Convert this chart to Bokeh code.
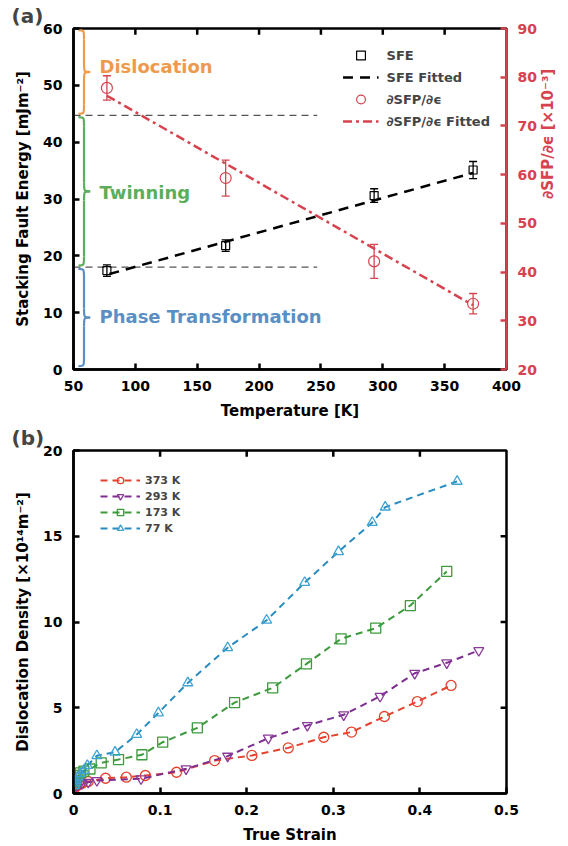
import math
from bokeh.plotting import figure
from bokeh.models import (Range1d, LinearAxis, Legend, LegendItem, ColumnDataSource,
                          SingleIntervalTicker, NumeralTickFormatter)
from bokeh.layouts import column
from bokeh.core.properties import value
from bokeh.embed import file_html
from bokeh.resources import INLINE

FONT = "DejaVu Sans"

# ---------------- panel (a) data ----------------
temperature = [77, 173, 293, 373]
sfe = [17.4, 21.8, 30.6, 35.1]
sfe_err = [1.0, 1.0, 1.2, 1.5]
sfe_fit_T = [79, 373]
sfe_fit = [16.8, 34.6]
dsfp = [77.8, 59.3, 42.2, 33.5]
dsfp_err = [2.5, 3.7, 3.5, 2.1]
dsfp_fit_T = [77, 373]
dsfp_fit = [76.2, 33.2]
regime_names = ["Dislocation", "Twinning", "Phase Transformation"]
regime_top = [59.7, 44.4, 17.7]
regime_bottom = [45.0, 18.3, 0.6]
regime_label_y = [53.3, 31.2, 9.3]
boundary_sfe = [44.7, 18.0]
boundary_T = [50, 247]
temp_ticks = [100, 150, 200, 250, 300, 350]

# ---------------- panel (b) data ----------------
series_labels = ["373 K", "293 K", "173 K", "77 K"]
strain_373 = [0.001, 0.002, 0.004, 0.007, 0.010, 0.017, 0.037, 0.061, 0.083, 0.119, 0.163,
              0.206, 0.248, 0.289, 0.321, 0.359, 0.397, 0.436]
rho_373 = [0.30, 0.38, 0.45, 0.52, 0.60, 0.70, 0.89, 0.95, 1.05, 1.24, 1.92,
           2.22, 2.66, 3.28, 3.58, 4.49, 5.36, 6.30]
strain_293 = [0.001, 0.002, 0.004, 0.007, 0.010, 0.017, 0.027, 0.078, 0.130, 0.178, 0.225,
              0.270, 0.312, 0.354, 0.394, 0.431, 0.468]
rho_293 = [0.35, 0.42, 0.48, 0.55, 0.60, 0.66, 0.76, 0.86, 1.44, 2.18, 3.23,
           3.97, 4.59, 5.67, 7.01, 7.62, 8.34]
strain_173 = [0.001, 0.002, 0.003, 0.005, 0.008, 0.012, 0.019, 0.032, 0.052, 0.079, 0.103,
              0.143, 0.186, 0.230, 0.269, 0.309, 0.349, 0.389, 0.431]
rho_173 = [0.60, 0.75, 0.90, 1.05, 1.20, 1.30, 1.43, 1.79, 1.98, 2.26, 2.99,
           3.83, 5.30, 6.16, 7.56, 9.02, 9.64, 10.96, 12.95]
strain_77 = [0.001, 0.002, 0.003, 0.005, 0.008, 0.012, 0.016, 0.027, 0.048, 0.073, 0.098,
             0.132, 0.178, 0.223, 0.267, 0.306, 0.345, 0.360, 0.443]
rho_77 = [0.45, 0.60, 0.75, 0.95, 1.15, 1.35, 1.63, 2.20, 2.41, 3.44, 4.70,
          6.45, 8.50, 10.10, 12.30, 14.10, 15.80, 16.70, 18.20]
strain_ticks = [0.1, 0.2, 0.3, 0.4]
rho_ticks = [5, 10, 15]

RED = "#D6434F"
REGIME_COLORS = ["#EE9A4D", "#5BAE5B", "#5B8FC4"]
LINE_COLORS = ["#E5412D", "#7D2E8E", "#3D9A3D", "#2A8CBE"]
MARK_COLORS = ["#E5412D", "#8A3A9A", "#3D9A3D", "#3FA3D3"]
MARKERS = ["circle", "inverted_triangle", "square", "triangle"]


def style_axis(ax, color="black"):
    ax.axis_line_width = 2.5
    ax.axis_line_color = color
    ax.major_tick_line_color = color
    ax.major_tick_line_width = 2.5
    ax.major_tick_in = 6
    ax.major_tick_out = 0
    ax.minor_tick_line_color = None
    ax.major_label_text_font = FONT
    ax.major_label_text_font_style = "bold"
    ax.major_label_text_font_size = "14px"
    ax.major_label_text_color = color
    ax.major_label_standoff = 7
    ax.axis_label_text_font = FONT
    ax.axis_label_text_font_style = "bold"
    ax.axis_label_text_font_size = "15px"
    ax.axis_label_text_color = color
    ax.axis_label_standoff = 8


def style_title(p, text):
    p.title.text = text
    p.title.align = "left"
    p.title.offset = -62
    p.title.standoff = 2
    p.title.text_font = FONT
    p.title.text_font_style = "bold"
    p.title.text_font_size = "20px"


# ================= panel (a) =================
p1 = figure(width=568, height=422, x_range=Range1d(50, 400), y_range=Range1d(0, 60),
            output_backend="svg", toolbar_location=None,
            min_border_left=73, min_border_right=57, min_border_top=28, min_border_bottom=52)
p1.extra_y_ranges = {"right": Range1d(20, 90)}
p1.grid.visible = False
p1.outline_line_color = "black"
p1.outline_line_width = 2.5
style_title(p1, "(a)")

p1.xaxis.ticker = SingleIntervalTicker(interval=50)
p1.yaxis.ticker = SingleIntervalTicker(interval=10)
p1.xaxis.axis_label = "Temperature [K]"
p1.yaxis.axis_label = "Stacking Fault Energy [mJm⁻²]"
for ax in p1.xaxis + p1.yaxis:
    style_axis(ax)

ax_r = LinearAxis(y_range_name="right", ticker=SingleIntervalTicker(interval=10),
                  axis_label="∂SFP/∂ϵ [×10⁻³]")
style_axis(ax_r, color=RED)
ax_r.axis_label_orientation = math.pi / 2
p1.add_layout(ax_r, "right")

# inward ticks on the top edge (about 6 px long)
p1.segment(x0=temp_ticks, y0=[60] * len(temp_ticks), x1=temp_ticks,
           y1=[60 - 1.1] * len(temp_ticks), line_color="black", line_width=2.5)

# regime boundaries
for b in boundary_sfe:
    p1.line(boundary_T, [b, b], line_color="#555555", line_width=1.2, line_dash="7 5")

# braces
xe, xm, xt, h = 54.0, 58.5, 63.5, 1.6
for top, bot, col in zip(regime_top, regime_bottom, REGIME_COLORS):
    ym = (top + bot) / 2
    p1.bezier(x0=[xe, xm, xt, xm], y0=[top, ym + h, ym, bot + h],
              x1=[xm, xt, xm, xe], y1=[top - h, ym, ym - h, bot],
              cx0=[xm, xm, xm, xm], cy0=[top, ym, ym, bot],
              cx1=[xm, xm, xm, xm], cy1=[top, ym, ym, bot],
              line_color=col, line_width=2.2)
    p1.segment(x0=[xm, xm], y0=[top - h, ym - h], x1=[xm, xm], y1=[ym + h, bot + h],
               line_color=col, line_width=2.2)

reg_src = ColumnDataSource(dict(x=[71, 71, 71], y=regime_label_y, t=regime_names,
                                c=REGIME_COLORS))
p1.text(x="x", y="y", text="t", text_color="c", source=reg_src, text_font=value(FONT),
        text_font_style="bold", text_font_size="18px", text_baseline="middle",
        text_align="left")

# SFE
sfe_src = ColumnDataSource(dict(T=temperature, v=sfe,
                                lo=[v - e for v, e in zip(sfe, sfe_err)],
                                hi=[v + e for v, e in zip(sfe, sfe_err)]))
p1.segment(x0="T", y0="lo", x1="T", y1="hi", source=sfe_src, line_color="black", line_width=1.3)
p1.scatter("T", "lo", source=sfe_src, marker="dash", size=8, line_color="black", line_width=1.3)
p1.scatter("T", "hi", source=sfe_src, marker="dash", size=8, line_color="black", line_width=1.3)
r_sfe = p1.scatter("T", "v", source=sfe_src, marker="square", size=8, fill_color=None,
                   line_color="black", line_width=1.2)
r_sfe_fit = p1.line(sfe_fit_T, sfe_fit, line_color="black", line_width=2.5, line_dash="10 7")

# dSFP
ds_src = ColumnDataSource(dict(T=temperature, v=dsfp,
                               lo=[v - e for v, e in zip(dsfp, dsfp_err)],
                               hi=[v + e for v, e in zip(dsfp, dsfp_err)]))
p1.segment(x0="T", y0="lo", x1="T", y1="hi", source=ds_src, line_color=RED, line_width=1.3,
           y_range_name="right")
p1.scatter("T", "lo", source=ds_src, marker="dash", size=8, line_color=RED, line_width=1.3,
           y_range_name="right")
p1.scatter("T", "hi", source=ds_src, marker="dash", size=8, line_color=RED, line_width=1.3,
           y_range_name="right")
r_ds_fit = p1.line(dsfp_fit_T, dsfp_fit, line_color=RED, line_width=2.5, line_dash="9 4 3 4",
                   y_range_name="right")
r_ds = p1.scatter("T", "v", source=ds_src, marker="circle", size=11, fill_color=None,
                  line_color=RED, line_width=1.2, y_range_name="right")

leg1 = Legend(items=[LegendItem(label="SFE", renderers=[r_sfe]),
                     LegendItem(label="SFE Fitted", renderers=[r_sfe_fit]),
                     LegendItem(label="∂SFP/∂ϵ", renderers=[r_ds]),
                     LegendItem(label="∂SFP/∂ϵ Fitted", renderers=[r_ds_fit])],
              location="top_right", margin=12, padding=4, spacing=0,
              glyph_width=36, glyph_height=22, label_standoff=8,
              label_text_font=FONT, label_text_font_style="bold", label_text_font_size="13px",
              border_line_alpha=0, background_fill_alpha=0)
p1.add_layout(leg1)

# ================= panel (b) =================
p2 = figure(width=568, height=424, x_range=Range1d(0, 0.5), y_range=Range1d(0, 20),
            output_backend="svg", toolbar_location=None,
            min_border_left=73, min_border_right=53, min_border_top=28, min_border_bottom=53)
p2.grid.visible = False
p2.outline_line_color = "black"
p2.outline_line_width = 2.5
style_title(p2, "(b)")
p2.xaxis.ticker = SingleIntervalTicker(interval=0.1)
p2.yaxis.ticker = SingleIntervalTicker(interval=5)
p2.xaxis.formatter = NumeralTickFormatter(format="0.[0]")
p2.xaxis.axis_label = "True Strain"
p2.yaxis.axis_label = "Dislocation Density [×10¹⁴m⁻²]"
for ax in p2.xaxis + p2.yaxis:
    style_axis(ax)

# inward ticks on top and right edges (about 6 px long)
p2.segment(x0=strain_ticks, y0=[20] * len(strain_ticks), x1=strain_ticks,
           y1=[20 - 0.36] * len(strain_ticks), line_color="black", line_width=2.5)
p2.segment(x0=[0.5] * len(rho_ticks), y0=rho_ticks, x1=[0.5 - 0.0068] * len(rho_ticks),
           y1=rho_ticks, line_color="black", line_width=2.5)

strains = [strain_373, strain_293, strain_173, strain_77]
rhos = [rho_373, rho_293, rho_173, rho_77]
items2 = []
for lab, sx, ry, lc, mc, mk in zip(series_labels, strains, rhos, LINE_COLORS, MARK_COLORS, MARKERS):
    rl = p2.line(sx, ry, line_color=lc, line_width=2, line_dash="7 5")
    rs = p2.scatter(sx, ry, marker=mk, size=10, fill_color=None, line_color=mc, line_width=1.3)
    items2.append(LegendItem(label=lab, renderers=[rl, rs]))

leg2 = Legend(items=items2, location=(22, 252), margin=0, padding=5, spacing=0,
              glyph_width=40, glyph_height=16, label_standoff=5,
              label_text_font=FONT, label_text_font_style="bold", label_text_font_size="11px",
              border_line_alpha=0, background_fill_alpha=0)
p2.add_layout(leg2)

layout = column(p1, p2, spacing=0)
open("out.html", "w").write(file_html(layout, INLINE))
